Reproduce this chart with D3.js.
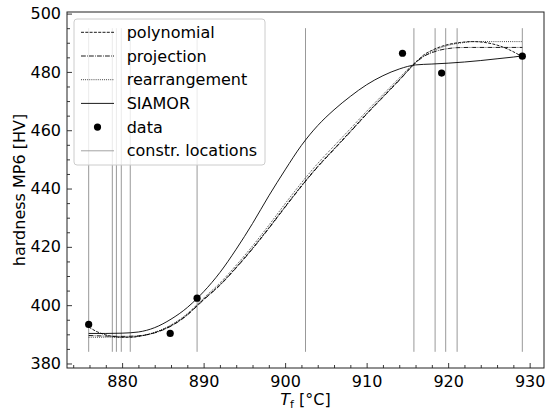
<!DOCTYPE html>
<html>
<head>
<meta charset="utf-8">
<script src="https://cdn.jsdelivr.net/npm/d3@7"></script>
<style>
  body { margin: 0; background: #fff; }
  svg { font-family: "DejaVu Sans", sans-serif; }
</style>
</head>
<body>
<div id="chart"></div>
<script>
// measured hardness values
var dataT = [875.9, 885.9, 889.2, 914.4, 919.2, 929.1];
var dataH = [393.4, 390.3, 402.4, 486.4, 479.6, 485.4];

// constraint locations
var constrT = [875.9, 878.8, 879.3, 879.9, 881.0, 889.2, 902.5, 915.8, 918.4, 919.7, 921.1, 929.1];
var constrRange = [384.0, 495.0];

// fitted curves (sampled)
var polyT = [875.9, 877, 878, 879, 880, 881, 882, 884, 886, 888, 889.2, 890, 892, 894, 896, 898, 900, 902.6, 904, 906, 908, 910, 912, 914, 915.9, 917, 918, 920, 921.5, 923, 924.5, 926, 927.5, 929.1];
var polyH = [392.5, 390.8, 389.8, 389.2, 389.0, 389.0, 389.3, 390.6, 393.0, 396.8, 399.9, 402.0, 407.0, 413.0, 419.5, 426.5, 433.8, 443.0, 447.6, 453.6, 459.6, 465.7, 471.5, 477.3, 482.9, 485.8, 487.4, 489.4, 490.1, 490.4, 490.1, 489.2, 487.6, 485.2];

var projT = [875.9, 878, 880, 882, 884, 886, 888, 889.2, 890, 892, 894, 896, 898, 900, 902.6, 904, 906, 908, 910, 912, 914, 915.9, 917, 918, 919, 920, 921, 923, 925, 927, 929.1];
var projH = [389.6, 389.4, 389.3, 389.5, 390.5, 392.8, 396.6, 399.7, 401.8, 406.8, 412.8, 419.3, 426.3, 433.6, 442.8, 447.4, 453.4, 459.4, 465.5, 471.3, 477.1, 482.8, 485.3, 486.6, 487.5, 488.0, 488.3, 488.4, 488.4, 488.4, 488.4];

var rearrT = [875.9, 878, 880, 881, 882, 884, 886, 888, 889.2, 890, 892, 894, 896, 898, 900, 902.6, 904, 906, 908, 910, 912, 914, 915.9, 917, 918, 919, 920, 921, 922, 923, 925, 929.1];
var rearrH = [389.0, 389.0, 389.0, 389.0, 389.3, 390.7, 393.2, 397.1, 400.2, 402.4, 407.6, 413.7, 420.3, 427.4, 434.8, 444.0, 448.6, 454.6, 460.5, 466.5, 472.2, 477.9, 483.2, 485.4, 487.0, 488.2, 489.1, 489.7, 490.1, 490.4, 490.4, 490.4];

var siamorT = [875.9, 878, 880, 882, 884, 886, 888, 889.2, 890, 892, 894, 896, 898, 900, 902, 904, 906, 908, 910, 912, 914, 916, 918, 920, 922, 924, 926, 928, 929.1];
var siamorH = [390.3, 390.3, 390.4, 390.8, 392.3, 395.2, 399.2, 402.3, 404.6, 411.2, 419.2, 428.0, 437.5, 446.4, 454.8, 461.6, 467.0, 471.6, 475.6, 478.7, 481.0, 482.4, 482.7, 483.0, 483.4, 483.9, 484.5, 485.1, 485.5];

var xTicks = [880, 890, 900, 910, 920, 930];
var yTicks = [380, 400, 420, 440, 460, 480, 500];

var width = 547, height = 410;
var margin = { top: 12, right: 3, bottom: 42, left: 67 };
var innerW = width - margin.left - margin.right,
    innerH = height - margin.top - margin.bottom;

var x = d3.scaleLinear().domain([873.24, 931.76]).range([0, innerW]);
var y = d3.scaleLinear().domain([378.45, 500.55]).range([innerH, 0]);

var svg = d3.select("#chart").append("svg")
    .attr("width", width)
    .attr("height", height);

var g = svg.append("g")
    .attr("transform", "translate(" + margin.left + "," + margin.top + ")");

function zip(a, b) { return a.map(function (d, i) { return [d, b[i]]; }); }

var line = d3.line()
    .x(function (d) { return x(d[0]); })
    .y(function (d) { return y(d[1]); })
    .curve(d3.curveMonotoneX);

// constraint lines
g.selectAll(".constr")
    .data(constrT)
    .enter().append("line")
    .attr("class", "constr")
    .attr("x1", function (d) { return x(d); })
    .attr("x2", function (d) { return x(d); })
    .attr("y1", y(constrRange[0]))
    .attr("y2", y(constrRange[1]))
    .attr("stroke", "#999")
    .attr("stroke-width", 1);

var curves = [
    { name: "polynomial", pts: zip(polyT, polyH), dash: "3,1.3", color: "#000" },
    { name: "projection", pts: zip(projT, projH), dash: "4.8,1.2,0.8,1.2", color: "#000" },
    { name: "rearrangement", pts: zip(rearrT, rearrH), dash: "0.8,1.3", color: "#000" },
    { name: "SIAMOR", pts: zip(siamorT, siamorH), dash: null, color: "#000" }
];

curves.forEach(function (c) {
    g.append("path")
        .datum(c.pts)
        .attr("d", line)
        .attr("fill", "none")
        .attr("stroke", c.color)
        .attr("stroke-width", 0.9)
        .attr("stroke-dasharray", c.dash);
});

// data points
g.selectAll(".pt")
    .data(zip(dataT, dataH))
    .enter().append("circle")
    .attr("class", "pt")
    .attr("cx", function (d) { return x(d[0]); })
    .attr("cy", function (d) { return y(d[1]); })
    .attr("r", 3.6)
    .attr("fill", "#000");

// axes (ticks pointing inward)
var xAxis = d3.axisBottom(x).tickValues(xTicks).tickSize(-5).tickPadding(8).tickFormat(d3.format("d"));
var yAxis = d3.axisLeft(y).tickValues(yTicks).tickSize(-5).tickPadding(6).tickFormat(d3.format("d"));

var gx = g.append("g").attr("transform", "translate(0," + innerH + ")").call(xAxis);
var gy = g.append("g").call(yAxis);

var xMinor = d3.range(874, 932, 2).filter(function (d) { return d % 10 !== 0; });
var yMinor = d3.range(385, 500, 5).filter(function (d) { return d % 20 !== 0; });
g.append("g").attr("transform", "translate(0," + innerH + ")")
    .call(d3.axisBottom(x).tickValues(xMinor).tickSize(-3).tickFormat(""));
g.append("g")
    .call(d3.axisLeft(y).tickValues(yMinor).tickSize(-3).tickFormat(""));

g.selectAll(".domain").remove();
g.selectAll(".tick line").attr("stroke", "#222").attr("stroke-width", 0.9);
g.selectAll(".tick text").attr("font-size", 16).attr("fill", "#000")
    .attr("font-family", "DejaVu Sans");

// frame
g.append("rect")
    .attr("width", innerW).attr("height", innerH)
    .attr("fill", "none").attr("stroke", "#222").attr("stroke-width", 1);

// axis labels
var xl = svg.append("text")
    .attr("x", margin.left + innerW / 2)
    .attr("y", 405)
    .attr("text-anchor", "middle")
    .attr("font-size", 16);
xl.append("tspan").attr("font-style", "italic").text("T");
xl.append("tspan").attr("font-size", 11).attr("dy", 3).text("f");
xl.append("tspan").attr("dy", -3).text(" [°C]");

svg.append("text")
    .attr("transform", "translate(25," + (margin.top + innerH / 2) + ") rotate(-90)")
    .attr("text-anchor", "middle")
    .attr("font-size", 16)
    .text("hardness MP6 [HV]");

// legend
var leg = svg.append("g").attr("transform", "translate(74,19)");
leg.append("rect")
    .attr("width", 191).attr("height", 146)
    .attr("rx", 3)
    .attr("fill", "#fff").attr("fill-opacity", 0.8)
    .attr("stroke", "#ccc").attr("stroke-width", 1);

var items = curves.map(function (c) { return { name: c.name, type: "line", dash: c.dash, color: "#000" }; });
items.push({ name: "data", type: "dot" });
items.push({ name: "constr. locations", type: "line", dash: null, color: "#999" });

items.forEach(function (it, i) {
    var cy = 13.3 + i * 23.7;
    if (it.type === "line") {
        leg.append("line")
            .attr("x1", 7).attr("x2", 40)
            .attr("y1", cy).attr("y2", cy)
            .attr("stroke", it.color)
            .attr("stroke-width", 0.9)
            .attr("stroke-dasharray", it.dash);
    } else {
        leg.append("circle").attr("cx", 23.5).attr("cy", cy).attr("r", 3.6).attr("fill", "#000");
    }
    leg.append("text")
        .attr("x", 52.7).attr("y", cy)
        .attr("dy", "0.35em")
        .attr("font-size", 16)
        .text(it.name);
});
</script>
</body>
</html>
